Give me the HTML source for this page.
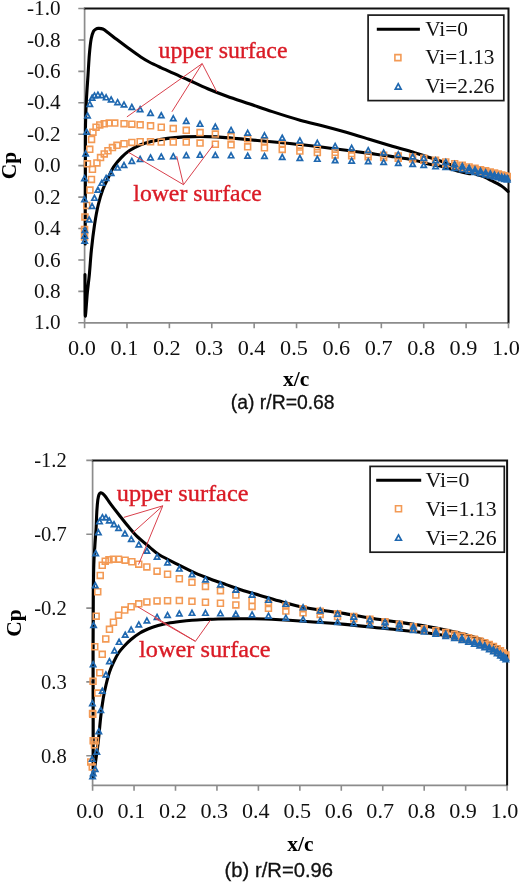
<!DOCTYPE html>
<html><head><meta charset="utf-8"><title>Cp distribution</title><style>
html,body{margin:0;padding:0;background:#fff;}
svg{display:block;}
.t{font-family:"Liberation Serif", "Times New Roman", serif;font-size:20.8px;fill:#111;}
.tb{font-family:"Liberation Serif", "Times New Roman", serif;font-size:21.5px;font-weight:bold;fill:#000;}
.cap{font-family:"Liberation Sans", Arial, sans-serif;font-size:19.4px;fill:#111;stroke:#111;stroke-width:0.3px;}
.lg{font-family:"Liberation Serif", "Times New Roman", serif;font-size:20.8px;fill:#111;}
.an{font-family:"Liberation Serif", "Times New Roman", serif;font-size:22.6px;fill:#DA1B26;stroke:#DA1B26;stroke-width:0.35px;}
.tr{fill:none;stroke:#1F68B0;stroke-width:1.7;stroke-linejoin:miter;}
.sq{fill:none;stroke:#F39A55;stroke-width:1.6;}
</style></head>
<body><svg width="520" height="883" viewBox="0 0 520 883">
<rect width="520" height="883" fill="#fff"/>
<path d="M84.60 8.50V322.80H508.50" fill="none" stroke="#8C8C8C" stroke-width="1.7"/>
<path d="M83.80 8.50H508.50V323.60" fill="none" stroke="#111" stroke-width="2.0"/>
<text transform="translate(60.60 15.10) scale(1.02 1)" text-anchor="end" class="t">-1.0</text>
<text transform="translate(60.60 46.53) scale(1.02 1)" text-anchor="end" class="t">-0.8</text>
<text transform="translate(60.60 77.96) scale(1.02 1)" text-anchor="end" class="t">-0.6</text>
<text transform="translate(60.60 109.39) scale(1.02 1)" text-anchor="end" class="t">-0.4</text>
<text transform="translate(60.60 140.82) scale(1.02 1)" text-anchor="end" class="t">-0.2</text>
<text transform="translate(60.60 172.25) scale(1.02 1)" text-anchor="end" class="t">0.0</text>
<text transform="translate(60.60 203.68) scale(1.02 1)" text-anchor="end" class="t">0.2</text>
<text transform="translate(60.60 235.11) scale(1.02 1)" text-anchor="end" class="t">0.4</text>
<text transform="translate(60.60 266.54) scale(1.02 1)" text-anchor="end" class="t">0.6</text>
<text transform="translate(60.60 297.97) scale(1.02 1)" text-anchor="end" class="t">0.8</text>
<text transform="translate(60.60 329.40) scale(1.02 1)" text-anchor="end" class="t">1.0</text>
<text transform="translate(82.00 354.50) scale(1.07 1)" text-anchor="middle" class="t">0.0</text>
<text transform="translate(124.39 354.50) scale(1.07 1)" text-anchor="middle" class="t">0.1</text>
<text transform="translate(166.78 354.50) scale(1.07 1)" text-anchor="middle" class="t">0.2</text>
<text transform="translate(209.17 354.50) scale(1.07 1)" text-anchor="middle" class="t">0.3</text>
<text transform="translate(251.56 354.50) scale(1.07 1)" text-anchor="middle" class="t">0.4</text>
<text transform="translate(293.95 354.50) scale(1.07 1)" text-anchor="middle" class="t">0.5</text>
<text transform="translate(336.34 354.50) scale(1.07 1)" text-anchor="middle" class="t">0.6</text>
<text transform="translate(378.73 354.50) scale(1.07 1)" text-anchor="middle" class="t">0.7</text>
<text transform="translate(421.12 354.50) scale(1.07 1)" text-anchor="middle" class="t">0.8</text>
<text transform="translate(463.51 354.50) scale(1.07 1)" text-anchor="middle" class="t">0.9</text>
<text transform="translate(505.90 354.50) scale(1.07 1)" text-anchor="middle" class="t">1.0</text>
<path d="M78.30 8.50H84.60M78.30 39.93H84.60M78.30 71.36H84.60M78.30 102.79H84.60M78.30 134.22H84.60M78.30 165.65H84.60M78.30 197.08H84.60M78.30 228.51H84.60M78.30 259.94H84.60M78.30 291.37H84.60M78.30 322.80H84.60M84.60 322.80V328.30M126.99 322.80V328.30M169.38 322.80V328.30M211.77 322.80V328.30M254.16 322.80V328.30M296.55 322.80V328.30M338.94 322.80V328.30M381.33 322.80V328.30M423.72 322.80V328.30M466.11 322.80V328.30M508.50 322.80V328.30" stroke="#8C8C8C" stroke-width="1.6" fill="none"/>
<text x="16" y="165.5" transform="rotate(-90 16 165.5)" text-anchor="middle" class="tb">Cp</text>
<text x="296.2" y="386.2" text-anchor="middle" class="tb">x/c</text>
<text x="230.8" y="409.3" class="cap" textLength="103.8" lengthAdjust="spacingAndGlyphs">(a) r/R=0.68</text>
<path d="M85.20 244.00C85.22 236.67 85.27 212.33 85.30 200.00C85.33 187.67 85.37 182.50 85.40 170.00C85.43 157.50 85.33 136.67 85.50 125.00C85.67 113.33 85.98 108.27 86.40 100.00C86.82 91.73 87.50 83.07 88.00 75.40C88.50 67.73 88.87 60.10 89.40 54.00C89.93 47.90 90.52 42.58 91.20 38.80C91.88 35.02 92.70 32.93 93.50 31.30C94.30 29.67 95.22 29.48 96.00 29.00C96.78 28.52 97.07 28.40 98.20 28.40C99.33 28.40 101.08 28.23 102.80 29.00C104.52 29.77 106.20 31.28 108.50 33.00C110.80 34.72 113.32 36.80 116.60 39.30C119.88 41.80 124.17 45.05 128.20 48.00C132.23 50.95 137.30 54.67 140.80 57.00C144.30 59.33 145.87 60.23 149.20 62.00C152.53 63.77 157.47 66.05 160.80 67.60C164.13 69.15 166.00 69.85 169.20 71.30C172.40 72.75 176.78 74.85 180.00 76.30C183.22 77.75 183.88 77.93 188.50 80.00C193.12 82.07 201.30 86.00 207.70 88.70C214.10 91.40 219.85 93.65 226.90 96.20C233.95 98.75 242.43 101.43 250.00 104.00C257.57 106.57 263.97 108.90 272.30 111.60C280.63 114.30 291.53 117.80 300.00 120.20C308.47 122.60 315.40 123.98 323.10 126.00C330.80 128.02 338.52 130.10 346.20 132.30C353.88 134.50 361.52 136.87 369.20 139.20C376.88 141.53 386.33 144.53 392.30 146.30C398.27 148.07 401.15 148.68 405.00 149.80C408.85 150.92 411.48 151.77 415.40 153.00C419.32 154.23 424.20 155.83 428.50 157.20C432.80 158.57 436.78 159.65 441.20 161.20C445.62 162.75 451.03 164.95 455.00 166.50C458.97 168.05 460.38 168.87 465.00 170.50C469.62 172.13 478.60 174.78 482.70 176.30C486.80 177.82 486.52 178.02 489.60 179.60C492.68 181.18 498.12 183.82 501.20 185.80C504.28 187.78 506.95 190.55 508.10 191.50" fill="none" stroke="#000" stroke-width="3.1" stroke-linejoin="round" stroke-linecap="round"/>
<path d="M85.00 274.50C85.02 278.75 85.03 293.08 85.10 300.00C85.17 306.92 85.03 317.17 85.40 316.00C85.77 314.83 86.63 300.00 87.30 293.00C87.97 286.00 88.72 281.17 89.40 274.00C90.08 266.83 90.55 258.17 91.40 250.00C92.25 241.83 93.37 232.50 94.50 225.00C95.63 217.50 96.78 211.00 98.20 205.00C99.62 199.00 101.23 193.75 103.00 189.00C104.77 184.25 107.03 180.18 108.80 176.50C110.57 172.82 111.48 170.08 113.60 166.90C115.72 163.72 118.90 160.08 121.50 157.40C124.10 154.72 126.12 152.87 129.20 150.80C132.28 148.73 136.32 146.53 140.00 145.00C143.68 143.47 146.68 142.70 151.30 141.60C155.92 140.50 162.25 139.18 167.70 138.40C173.15 137.62 178.55 137.22 184.00 136.90C189.45 136.58 194.95 136.50 200.40 136.50C205.85 136.50 211.25 136.62 216.70 136.90C222.15 137.18 227.65 137.73 233.10 138.20C238.55 138.67 243.95 139.18 249.40 139.70C254.85 140.22 260.35 140.80 265.80 141.30C271.25 141.80 276.40 142.17 282.10 142.70C287.80 143.23 293.17 143.73 300.00 144.50C306.83 145.27 315.40 146.33 323.10 147.30C330.80 148.27 338.52 149.28 346.20 150.30C353.88 151.32 361.52 152.35 369.20 153.40C376.88 154.45 384.60 155.43 392.30 156.60C400.00 157.77 409.37 159.17 415.40 160.40C421.43 161.63 424.20 163.03 428.50 164.00C432.80 164.97 436.02 164.95 441.20 166.20C446.38 167.45 454.80 170.23 459.60 171.50C464.40 172.77 468.27 173.42 470.00 173.80" fill="none" stroke="#000" stroke-width="3.1" stroke-linejoin="round" stroke-linecap="round"/>
<path class="sq" d="M81.6 234.1h5.9v5.9h-5.9ZM81.6 226.6h5.9v5.9h-5.9ZM82.0 214.0h5.9v5.9h-5.9ZM83.8 202.5h5.9v5.9h-5.9ZM87.0 187.1h5.9v5.9h-5.9ZM88.5 176.5h5.9v5.9h-5.9ZM89.5 166.4h5.9v5.9h-5.9ZM84.5 160.9h5.9v5.9h-5.9ZM86.8 146.4h5.9v5.9h-5.9ZM88.6 136.5h5.9v5.9h-5.9ZM90.0 129.2h5.9v5.9h-5.9ZM93.1 124.2h5.9v5.9h-5.9ZM96.8 122.0h5.9v5.9h-5.9ZM101.3 120.8h5.9v5.9h-5.9ZM106.3 120.1h5.9v5.9h-5.9ZM111.8 120.1h5.9v5.9h-5.9ZM121.1 120.7h5.9v5.9h-5.9ZM128.9 121.2h5.9v5.9h-5.9ZM137.2 121.9h5.9v5.9h-5.9ZM147.6 122.9h5.9v5.9h-5.9ZM158.3 124.3h5.9v5.9h-5.9ZM170.3 125.6h5.9v5.9h-5.9ZM183.3 127.4h5.9v5.9h-5.9ZM197.1 129.6h5.9v5.9h-5.9ZM212.4 131.1h5.9v5.9h-5.9ZM228.1 133.7h5.9v5.9h-5.9ZM244.7 135.9h5.9v5.9h-5.9ZM261.5 138.3h5.9v5.9h-5.9ZM279.3 141.4h5.9v5.9h-5.9ZM296.9 144.1h5.9v5.9h-5.9ZM314.4 146.1h5.9v5.9h-5.9ZM332.2 149.4h5.9v5.9h-5.9ZM348.7 150.6h5.9v5.9h-5.9ZM365.2 151.6h5.9v5.9h-5.9ZM380.7 152.4h5.9v5.9h-5.9ZM395.3 153.1h5.9v5.9h-5.9ZM409.7 154.0h5.9v5.9h-5.9ZM420.8 155.3h5.9v5.9h-5.9ZM432.6 157.2h5.9v5.9h-5.9ZM442.8 159.0h5.9v5.9h-5.9ZM451.7 160.7h5.9v5.9h-5.9ZM459.3 162.4h5.9v5.9h-5.9ZM466.1 164.0h5.9v5.9h-5.9ZM472.1 165.4h5.9v5.9h-5.9ZM477.6 166.7h5.9v5.9h-5.9ZM482.7 167.9h5.9v5.9h-5.9ZM487.3 169.1h5.9v5.9h-5.9ZM491.6 170.1h5.9v5.9h-5.9ZM495.4 171.1h5.9v5.9h-5.9ZM498.8 172.0h5.9v5.9h-5.9ZM501.7 172.8h5.9v5.9h-5.9ZM504.3 173.5h5.9v5.9h-5.9ZM94.0 160.0h5.9v5.9h-5.9ZM97.6 154.6h5.9v5.9h-5.9ZM101.3 151.0h5.9v5.9h-5.9ZM105.0 147.8h5.9v5.9h-5.9ZM109.5 144.6h5.9v5.9h-5.9ZM114.0 142.4h5.9v5.9h-5.9ZM121.1 140.8h5.9v5.9h-5.9ZM128.9 139.5h5.9v5.9h-5.9ZM137.2 138.8h5.9v5.9h-5.9ZM147.6 138.8h5.9v5.9h-5.9ZM158.3 139.1h5.9v5.9h-5.9ZM170.3 139.1h5.9v5.9h-5.9ZM183.3 139.1h5.9v5.9h-5.9ZM197.1 140.1h5.9v5.9h-5.9ZM212.4 141.3h5.9v5.9h-5.9ZM228.1 141.9h5.9v5.9h-5.9ZM244.7 143.9h5.9v5.9h-5.9ZM261.5 144.9h5.9v5.9h-5.9ZM279.3 146.5h5.9v5.9h-5.9ZM296.9 148.1h5.9v5.9h-5.9ZM314.4 149.6h5.9v5.9h-5.9ZM332.2 152.1h5.9v5.9h-5.9ZM348.7 152.9h5.9v5.9h-5.9ZM365.2 153.7h5.9v5.9h-5.9ZM380.7 154.5h5.9v5.9h-5.9ZM395.3 155.2h5.9v5.9h-5.9ZM409.7 156.0h5.9v5.9h-5.9ZM420.8 157.3h5.9v5.9h-5.9ZM432.6 159.2h5.9v5.9h-5.9ZM442.8 161.0h5.9v5.9h-5.9ZM451.7 162.7h5.9v5.9h-5.9ZM459.3 164.2h5.9v5.9h-5.9ZM466.1 165.7h5.9v5.9h-5.9ZM472.1 166.9h5.9v5.9h-5.9ZM477.6 168.2h5.9v5.9h-5.9ZM482.7 169.3h5.9v5.9h-5.9ZM487.3 170.4h5.9v5.9h-5.9ZM491.6 171.4h5.9v5.9h-5.9ZM495.4 172.3h5.9v5.9h-5.9ZM498.8 173.1h5.9v5.9h-5.9ZM501.7 173.8h5.9v5.9h-5.9ZM504.3 174.5h5.9v5.9h-5.9Z"/>
<path class="tr" d="M84.70 238.17L87.35 243.05H82.05ZM84.70 233.17L87.35 238.05H82.05ZM84.90 227.57L87.55 232.45H82.25ZM84.50 196.77L87.15 201.65H81.85ZM84.50 175.67L87.15 180.55H81.85ZM85.70 151.07L88.35 155.95H83.05ZM86.60 129.27L89.25 134.15H83.95ZM87.50 112.97L90.15 117.85H84.85ZM89.81 101.42L92.46 106.30H87.16ZM92.10 95.17L94.75 100.04H89.45ZM94.48 92.94L97.13 97.82H91.83ZM97.91 92.17L100.56 97.05H95.26ZM101.81 92.75L104.46 97.63H99.16ZM106.13 94.88L108.78 99.75H103.48ZM111.14 96.99L113.79 101.86H108.49ZM117.58 99.70L120.23 104.58H114.93ZM124.02 102.05L126.67 106.92H121.37ZM131.82 104.52L134.47 109.40H129.17ZM140.13 106.76L142.78 111.64H137.48ZM150.52 110.46L153.17 115.33H147.87ZM161.24 112.73L163.89 117.60H158.59ZM173.28 115.81L175.93 120.69H170.63ZM186.25 118.54L188.90 123.42H183.60ZM200.03 121.36L202.68 126.23H197.38ZM215.33 124.10L217.98 128.97H212.68ZM231.06 127.44L233.71 132.32H228.41ZM247.67 130.30L250.32 135.18H245.02ZM264.46 132.87L267.11 137.74H261.81ZM282.22 135.28L284.87 140.15H279.57ZM299.86 137.99L302.51 142.87H297.21ZM317.32 140.39L319.97 145.27H314.67ZM335.12 143.48L337.77 148.35H332.47ZM351.66 145.39L354.31 150.27H349.01ZM368.19 147.70L370.84 152.58H365.54ZM383.66 150.09L386.31 154.97H381.01ZM398.29 151.90L400.94 156.77H395.64ZM412.70 153.97L415.35 158.85H410.05ZM423.72 155.53L426.37 160.41H421.07ZM435.59 157.67L438.24 162.55H432.94ZM445.76 159.52L448.41 164.40H443.11ZM454.66 161.59L457.31 166.47H452.01ZM462.29 163.50L464.94 168.38H459.64ZM469.08 165.27L471.73 170.15H466.43ZM475.01 166.84L477.66 171.72H472.36ZM480.52 168.31L483.17 173.19H477.87ZM485.61 169.67L488.26 174.55H482.96ZM490.27 170.93L492.92 175.81H487.62ZM494.51 172.08L497.16 176.96H491.86ZM498.33 173.13L500.98 178.01H495.68ZM501.72 174.06L504.37 178.94H499.07ZM504.68 174.89L507.33 179.76H502.03ZM507.23 175.60L509.88 180.47H504.58ZM89.10 216.97L91.75 221.85H86.45ZM92.10 203.56L94.75 208.44H89.45ZM94.48 195.36L97.13 200.24H91.83ZM97.91 187.23L100.56 192.11H95.26ZM101.81 180.38L104.46 185.25H99.16ZM106.13 175.42L108.78 180.29H103.48ZM111.14 170.43L113.79 175.31H108.49ZM117.58 165.12L120.23 169.99H114.93ZM124.02 162.54L126.67 167.41H121.37ZM131.82 158.43L134.47 163.31H129.17ZM140.13 156.44L142.78 161.31H137.48ZM150.52 155.03L153.17 159.91H147.87ZM161.24 153.96L163.89 158.84H158.59ZM173.28 153.66L175.93 158.54H170.63ZM186.25 152.66L188.90 157.54H183.60ZM200.03 152.37L202.68 157.25H197.38ZM215.33 152.57L217.98 157.45H212.68ZM231.06 152.88L233.71 157.76H228.41ZM247.67 153.27L250.32 158.15H245.02ZM264.46 153.47L267.11 158.35H261.81ZM282.22 154.47L284.87 159.35H279.57ZM299.86 155.48L302.51 160.36H297.21ZM317.32 156.38L319.97 161.26H314.67ZM335.12 157.77L337.77 162.65H332.47ZM351.66 158.18L354.31 163.05H349.01ZM368.19 158.68L370.84 163.56H365.54ZM383.66 159.58L386.31 164.46H381.01ZM398.29 160.48L400.94 165.36H395.64ZM412.70 161.59L415.35 166.47H410.05ZM423.72 162.59L426.37 167.47H421.07ZM435.59 163.67L438.24 168.55H432.94ZM445.76 164.60L448.41 169.47H443.11ZM454.66 165.62L457.31 170.50H452.01ZM462.29 166.89L464.94 171.77H459.64ZM469.08 168.28L471.73 173.15H466.43ZM475.01 169.58L477.66 174.45H472.36ZM480.52 170.79L483.17 175.66H477.87ZM485.61 171.91L488.26 176.79H482.96ZM490.27 172.97L492.92 177.85H487.62ZM494.51 173.97L497.16 178.84H491.86ZM498.33 174.89L500.98 179.76H495.68ZM501.72 175.72L504.37 180.59H499.07ZM504.68 176.46L507.33 181.33H502.03ZM507.23 177.10L509.88 181.98H504.58Z"/>
<path d="M92.60 460.40V785.30H507.10" fill="none" stroke="#8C8C8C" stroke-width="1.7"/>
<path d="M91.80 460.40H507.10V786.10" fill="none" stroke="#111" stroke-width="2.0"/>
<text transform="translate(66.80 467.30) scale(0.99 1)" text-anchor="end" class="t">-1.2</text>
<text transform="translate(66.80 541.14) scale(0.99 1)" text-anchor="end" class="t">-0.7</text>
<text transform="translate(66.80 614.98) scale(0.99 1)" text-anchor="end" class="t">-0.2</text>
<text transform="translate(66.80 688.82) scale(0.99 1)" text-anchor="end" class="t">0.3</text>
<text transform="translate(66.80 762.66) scale(0.99 1)" text-anchor="end" class="t">0.8</text>
<text transform="translate(90.00 818.00) scale(1.065 1)" text-anchor="middle" class="t">0.0</text>
<text transform="translate(131.45 818.00) scale(1.065 1)" text-anchor="middle" class="t">0.1</text>
<text transform="translate(172.90 818.00) scale(1.065 1)" text-anchor="middle" class="t">0.2</text>
<text transform="translate(214.35 818.00) scale(1.065 1)" text-anchor="middle" class="t">0.3</text>
<text transform="translate(255.80 818.00) scale(1.065 1)" text-anchor="middle" class="t">0.4</text>
<text transform="translate(297.25 818.00) scale(1.065 1)" text-anchor="middle" class="t">0.5</text>
<text transform="translate(338.70 818.00) scale(1.065 1)" text-anchor="middle" class="t">0.6</text>
<text transform="translate(380.15 818.00) scale(1.065 1)" text-anchor="middle" class="t">0.7</text>
<text transform="translate(421.60 818.00) scale(1.065 1)" text-anchor="middle" class="t">0.8</text>
<text transform="translate(463.05 818.00) scale(1.065 1)" text-anchor="middle" class="t">0.9</text>
<text transform="translate(504.50 818.00) scale(1.065 1)" text-anchor="middle" class="t">1.0</text>
<path d="M86.30 460.40H92.60M86.30 534.24H92.60M86.30 608.08H92.60M86.30 681.92H92.60M86.30 755.76H92.60M92.60 785.30V790.80M134.05 785.30V790.80M175.50 785.30V790.80M216.95 785.30V790.80M258.40 785.30V790.80M299.85 785.30V790.80M341.30 785.30V790.80M382.75 785.30V790.80M424.20 785.30V790.80M465.65 785.30V790.80M507.10 785.30V790.80" stroke="#8C8C8C" stroke-width="1.6" fill="none"/>
<text x="21.3" y="623" transform="rotate(-90 21.3 623)" text-anchor="middle" class="tb">Cp</text>
<text x="300.4" y="850.8" text-anchor="middle" class="tb">x/c</text>
<text x="224.6" y="876.5" class="cap" textLength="108.5" lengthAdjust="spacingAndGlyphs">(b) r/R=0.96</text>
<path d="M93.20 776.50C93.20 767.08 93.22 741.08 93.20 720.00C93.18 698.92 93.08 670.00 93.10 650.00C93.12 630.00 93.18 614.17 93.30 600.00C93.42 585.83 93.53 574.10 93.80 565.00C94.07 555.90 94.52 551.55 94.90 545.40C95.28 539.25 95.78 533.67 96.10 528.10C96.42 522.53 96.52 516.68 96.80 512.00C97.08 507.32 97.43 502.90 97.80 500.00C98.17 497.10 98.52 495.80 99.00 494.60C99.48 493.40 100.10 492.97 100.70 492.80C101.30 492.63 101.95 493.13 102.60 493.60C103.25 494.07 103.77 494.60 104.60 495.60C105.43 496.60 106.52 498.10 107.60 499.60C108.68 501.10 108.98 501.78 111.10 504.60C113.22 507.42 117.42 512.83 120.30 516.50C123.18 520.17 125.70 523.38 128.40 526.60C131.10 529.82 132.97 532.38 136.50 535.80C140.03 539.22 145.82 543.93 149.60 547.10C153.38 550.27 154.13 551.72 159.20 554.80C164.27 557.88 173.97 562.55 180.00 565.60C186.03 568.65 190.27 570.83 195.40 573.10C200.53 575.37 205.67 577.28 210.80 579.20C215.93 581.12 221.08 582.80 226.20 584.60C231.32 586.40 235.87 588.20 241.50 590.00C247.13 591.80 253.83 593.60 260.00 595.40C266.17 597.20 271.90 598.97 278.50 600.80C285.10 602.63 291.85 604.73 299.60 606.40C307.35 608.07 317.43 609.60 325.00 610.80C332.57 612.00 335.83 612.15 345.00 613.60C354.17 615.05 366.67 617.43 380.00 619.50C393.33 621.57 412.50 623.92 425.00 626.00C437.50 628.08 445.33 629.67 455.00 632.00C464.67 634.33 475.50 637.17 483.00 640.00C490.50 642.83 495.92 646.50 500.00 649.00C504.08 651.50 506.25 654.00 507.50 655.00" fill="none" stroke="#000" stroke-width="3.1" stroke-linejoin="round" stroke-linecap="round"/>
<path d="M93.20 776.50C93.58 774.08 94.67 767.70 95.50 762.00C96.33 756.30 97.32 749.92 98.20 742.30C99.08 734.68 99.95 723.68 100.80 716.30C101.65 708.92 102.43 703.22 103.30 698.00C104.17 692.78 104.97 689.33 106.00 685.00C107.03 680.67 108.18 675.90 109.50 672.00C110.82 668.10 112.40 664.77 113.90 661.60C115.40 658.43 116.77 655.60 118.50 653.00C120.23 650.40 122.22 648.25 124.30 646.00C126.38 643.75 128.40 641.67 131.00 639.50C133.60 637.33 137.07 634.75 139.90 633.00C142.73 631.25 144.97 630.23 148.00 629.00C151.03 627.77 154.77 626.57 158.10 625.60C161.43 624.63 164.35 623.88 168.00 623.20C171.65 622.52 176.00 621.98 180.00 621.50C184.00 621.02 187.68 620.63 192.00 620.30C196.32 619.97 201.57 619.72 205.90 619.50C210.23 619.28 212.32 619.12 218.00 619.00C223.68 618.88 232.17 618.80 240.00 618.80C247.83 618.80 255.00 618.63 265.00 619.00C275.00 619.37 286.67 620.10 300.00 621.00C313.33 621.90 330.83 623.15 345.00 624.40C359.17 625.65 371.67 627.12 385.00 628.50C398.33 629.88 413.33 631.28 425.00 632.70C436.67 634.12 450.00 636.28 455.00 637.00" fill="none" stroke="#000" stroke-width="3.1" stroke-linejoin="round" stroke-linecap="round"/>
<path class="sq" d="M89.3 764.0h5.9v5.9h-5.9ZM87.8 759.0h5.9v5.9h-5.9ZM89.6 710.5h5.9v5.9h-5.9ZM94.8 690.1h5.9v5.9h-5.9ZM90.1 678.4h5.9v5.9h-5.9ZM96.8 669.8h5.9v5.9h-5.9ZM99.3 651.4h5.9v5.9h-5.9ZM91.8 643.8h5.9v5.9h-5.9ZM93.2 613.2h5.9v5.9h-5.9ZM94.8 588.8h5.9v5.9h-5.9ZM97.3 572.5h5.9v5.9h-5.9ZM89.8 711.3h5.9v5.9h-5.9ZM90.2 737.8h5.9v5.9h-5.9ZM92.5 737.8h5.9v5.9h-5.9ZM91.5 742.0h5.9v5.9h-5.9ZM99.3 562.3h5.9v5.9h-5.9ZM102.3 558.2h5.9v5.9h-5.9ZM106.0 556.8h5.9v5.9h-5.9ZM110.5 556.2h5.9v5.9h-5.9ZM115.6 556.2h5.9v5.9h-5.9ZM122.2 557.2h5.9v5.9h-5.9ZM128.9 558.8h5.9v5.9h-5.9ZM135.8 561.2h5.9v5.9h-5.9ZM143.9 564.0h5.9v5.9h-5.9ZM154.1 568.2h5.9v5.9h-5.9ZM164.6 571.3h5.9v5.9h-5.9ZM176.4 575.8h5.9v5.9h-5.9ZM189.0 579.4h5.9v5.9h-5.9ZM202.5 583.5h5.9v5.9h-5.9ZM217.5 587.7h5.9v5.9h-5.9ZM232.9 592.1h5.9v5.9h-5.9ZM249.1 597.3h5.9v5.9h-5.9ZM265.5 600.5h5.9v5.9h-5.9ZM282.9 603.1h5.9v5.9h-5.9ZM300.1 605.7h5.9v5.9h-5.9ZM317.2 608.2h5.9v5.9h-5.9ZM334.6 610.9h5.9v5.9h-5.9ZM350.8 613.6h5.9v5.9h-5.9ZM367.0 616.2h5.9v5.9h-5.9ZM382.1 618.8h5.9v5.9h-5.9ZM396.4 621.2h5.9v5.9h-5.9ZM410.5 623.8h5.9v5.9h-5.9ZM421.3 625.7h5.9v5.9h-5.9ZM432.9 627.8h5.9v5.9h-5.9ZM442.8 629.6h5.9v5.9h-5.9ZM451.5 631.4h5.9v5.9h-5.9ZM459.0 633.1h5.9v5.9h-5.9ZM465.6 634.7h5.9v5.9h-5.9ZM471.4 636.3h5.9v5.9h-5.9ZM476.8 638.0h5.9v5.9h-5.9ZM481.8 639.7h5.9v5.9h-5.9ZM486.3 641.6h5.9v5.9h-5.9ZM490.5 643.6h5.9v5.9h-5.9ZM494.2 645.7h5.9v5.9h-5.9ZM497.5 647.9h5.9v5.9h-5.9ZM500.4 650.1h5.9v5.9h-5.9ZM502.9 652.1h5.9v5.9h-5.9ZM102.8 636.0h5.9v5.9h-5.9ZM106.5 626.4h5.9v5.9h-5.9ZM110.5 619.3h5.9v5.9h-5.9ZM115.6 612.2h5.9v5.9h-5.9ZM121.8 607.1h5.9v5.9h-5.9ZM128.2 603.8h5.9v5.9h-5.9ZM135.8 600.9h5.9v5.9h-5.9ZM143.9 599.0h5.9v5.9h-5.9ZM154.1 598.0h5.9v5.9h-5.9ZM164.6 597.7h5.9v5.9h-5.9ZM176.4 597.6h5.9v5.9h-5.9ZM189.0 598.4h5.9v5.9h-5.9ZM202.5 599.3h5.9v5.9h-5.9ZM217.5 600.3h5.9v5.9h-5.9ZM232.9 602.0h5.9v5.9h-5.9ZM249.1 603.5h5.9v5.9h-5.9ZM265.5 605.3h5.9v5.9h-5.9ZM282.9 608.1h5.9v5.9h-5.9ZM300.1 609.8h5.9v5.9h-5.9ZM317.2 611.5h5.9v5.9h-5.9ZM334.6 613.6h5.9v5.9h-5.9ZM350.8 615.7h5.9v5.9h-5.9ZM367.0 617.8h5.9v5.9h-5.9ZM382.1 619.8h5.9v5.9h-5.9ZM396.4 621.9h5.9v5.9h-5.9ZM410.5 625.2h5.9v5.9h-5.9ZM421.3 627.4h5.9v5.9h-5.9ZM432.9 629.6h5.9v5.9h-5.9ZM442.8 631.6h5.9v5.9h-5.9ZM451.5 633.4h5.9v5.9h-5.9ZM459.0 635.2h5.9v5.9h-5.9ZM465.6 636.8h5.9v5.9h-5.9ZM471.4 638.3h5.9v5.9h-5.9ZM476.8 640.0h5.9v5.9h-5.9ZM481.8 641.7h5.9v5.9h-5.9ZM486.3 643.6h5.9v5.9h-5.9ZM490.5 645.7h5.9v5.9h-5.9ZM494.2 647.7h5.9v5.9h-5.9ZM497.5 649.8h5.9v5.9h-5.9ZM500.4 651.9h5.9v5.9h-5.9ZM502.9 653.7h5.9v5.9h-5.9Z"/>
<path class="tr" d="M92.60 773.67L95.25 778.55H89.95ZM93.20 770.67L95.85 775.55H90.55ZM95.20 766.57L97.85 771.45H92.55ZM92.20 756.37L94.85 761.25H89.55ZM96.80 749.17L99.45 754.05H94.15ZM98.80 728.77L101.45 733.65H96.15ZM92.40 700.67L95.05 705.55H89.75ZM93.10 661.77L95.75 666.65H90.45ZM93.60 622.57L96.25 627.45H90.95ZM95.20 582.77L97.85 587.65H92.55ZM95.70 550.77L98.35 555.65H93.05ZM98.40 529.87L101.05 534.75H95.75ZM99.50 518.87L102.15 523.75H96.85ZM102.40 514.67L105.05 519.55H99.75ZM105.90 514.97L108.55 519.85H103.25ZM109.30 517.97L111.95 522.85H106.65ZM114.00 521.77L116.65 526.65H111.35ZM118.60 525.57L121.25 530.45H115.95ZM124.90 530.97L127.55 535.85H122.25ZM131.30 536.57L133.95 541.45H128.65ZM138.78 541.95L141.43 546.83H136.13ZM146.90 548.23L149.55 553.10H144.25ZM157.05 554.23L159.70 559.11H154.40ZM167.54 560.06L170.19 564.94H164.89ZM179.31 566.13L181.96 571.01H176.66ZM192.00 571.81L194.65 576.69H189.35ZM205.47 576.92L208.12 581.80H202.82ZM220.43 582.08L223.08 586.96H217.78ZM235.81 587.25L238.46 592.12H233.16ZM252.06 592.33L254.71 597.20H249.41ZM268.47 597.36L271.12 602.24H265.82ZM285.84 601.38L288.49 606.26H283.19ZM303.08 604.85L305.73 609.73H300.43ZM320.16 607.93L322.81 612.80H317.51ZM337.57 611.20L340.22 616.08H334.92ZM353.74 614.23L356.38 619.10H351.09ZM369.90 616.77L372.55 621.65H367.25ZM385.03 619.44L387.68 624.32H382.38ZM399.33 621.68L401.98 626.56H396.68ZM413.42 623.96L416.07 628.83H410.77ZM424.20 626.58L426.85 631.46H421.55ZM435.81 629.18L438.46 634.06H433.16ZM445.75 631.40L448.40 636.28H443.10ZM454.46 633.53L457.11 638.41H451.81ZM461.92 635.52L464.57 640.40H459.27ZM468.55 637.39L471.20 642.27H465.90ZM474.35 639.17L477.00 644.05H471.70ZM479.74 640.99L482.39 645.86H477.09ZM484.72 642.83L487.37 647.71H482.07ZM489.28 644.75L491.93 649.63H486.63ZM493.42 646.77L496.07 651.64H490.77ZM497.15 648.85L499.80 653.73H494.50ZM500.47 651.06L503.12 655.93H497.82ZM503.37 653.24L506.02 658.11H500.72ZM505.86 655.27L508.51 660.14H503.21ZM100.80 707.57L103.45 712.45H98.15ZM102.30 688.27L104.95 693.15H99.65ZM105.90 671.97L108.55 676.85H103.25ZM109.40 658.77L112.05 663.65H106.75ZM114.50 648.07L117.15 652.95H111.85ZM119.10 639.37L121.75 644.25H116.45ZM125.20 632.27L127.85 637.15H122.55ZM131.15 627.14L133.80 632.02H128.50ZM138.78 621.91L141.43 626.79H136.13ZM146.90 618.07L149.55 622.95H144.25ZM157.05 614.46L159.70 619.33H154.40ZM167.54 612.57L170.19 617.45H164.89ZM179.31 610.99L181.96 615.87H176.66ZM192.00 610.37L194.65 615.25H189.35ZM205.47 610.37L208.12 615.25H202.82ZM220.43 610.86L223.08 615.74H217.78ZM235.81 611.36L238.46 616.23H233.16ZM252.06 611.96L254.71 616.84H249.41ZM268.47 613.17L271.12 618.05H265.82ZM285.84 615.18L288.49 620.05H283.19ZM303.08 616.66L305.73 621.54H300.43ZM320.16 617.95L322.81 622.83H317.51ZM337.57 619.48L340.22 624.35H334.92ZM353.74 620.85L356.38 625.73H351.09ZM369.90 622.02L372.55 626.89H367.25ZM385.03 623.75L387.68 628.63H382.38ZM399.33 625.50L401.98 630.37H396.68ZM413.42 627.41L416.07 632.28H410.77ZM424.20 629.13L426.85 634.01H421.55ZM435.81 631.34L438.46 636.21H433.16ZM445.75 633.47L448.40 638.35H443.10ZM454.46 635.54L457.11 640.41H451.81ZM461.92 637.47L464.57 642.35H459.27ZM468.55 639.35L471.20 644.22H465.90ZM474.35 641.15L477.00 646.03H471.70ZM479.74 642.98L482.39 647.86H477.09ZM484.72 644.83L487.37 649.71H482.07ZM489.28 646.77L491.93 651.65H486.63ZM493.42 648.79L496.07 653.66H490.77ZM497.15 650.83L499.80 655.71H494.50ZM500.47 652.93L503.12 657.81H497.82ZM503.37 654.98L506.02 659.86H500.72ZM505.86 656.87L508.51 661.74H503.21Z"/>
<rect x="368.1" y="15.1" width="135.7" height="85.5" fill="#fff" stroke="#1a1a1a" stroke-width="1.7"/>
<path d="M376.8 29.2H419.9" stroke="#000" stroke-width="3.1"/>
<path class="sq" d="M394.9 54.6h6.0v6.0h-6.0Z"/>
<path class="tr" d="M398.20 83.71L401.10 89.04H395.30Z"/>
<text transform="translate(425.20 35.80) scale(1.025 1)" class="lg">Vi=0</text>
<text transform="translate(425.20 64.30) scale(1.025 1)" class="lg">Vi=1.13</text>
<text transform="translate(425.20 92.90) scale(1.025 1)" class="lg">Vi=2.26</text>
<rect x="370.1" y="466.4" width="134.2" height="85.80000000000007" fill="#fff" stroke="#1a1a1a" stroke-width="1.7"/>
<path d="M376.2 480.3H421.2" stroke="#000" stroke-width="3.1"/>
<path class="sq" d="M395.5 505.8h6.0v6.0h-6.0Z"/>
<path class="tr" d="M398.50 534.91L401.40 540.24H395.60Z"/>
<text transform="translate(425.60 487.20) scale(1.05 1)" class="lg">Vi=0</text>
<text transform="translate(425.60 516.10) scale(1.05 1)" class="lg">Vi=1.13</text>
<text transform="translate(425.60 544.60) scale(1.05 1)" class="lg">Vi=2.26</text>
<path d="M202.2 63.6L126.9 116.9M202.2 63.6L171.9 111.8M202.2 63.6L216.9 92" stroke="#D9404C" stroke-width="1.0" fill="none"/>
<text transform="translate(158.50 57.70) scale(1.055 1)" class="an">upper surface</text>
<path d="M183.5 184.7L128.5 152.3M183.5 184.7L176.7 156.2M183.5 184.7L213.1 145.2" stroke="#D9404C" stroke-width="1.0" fill="none"/>
<text transform="translate(133.30 201.40) scale(1.05 1)" class="an">lower surface</text>
<path d="M162.8 505.8L123.8 517.4M162.8 505.8L132.5 533M162.8 505.8L138.5 564.6" stroke="#D9404C" stroke-width="1.0" fill="none"/>
<text transform="translate(116.80 500.60) scale(1.077 1)" class="an">upper surface</text>
<path d="M195.4 641.3L137.7 606.7M195.4 641.3L155 618.3M195.4 641.3L210.4 620.2" stroke="#D9404C" stroke-width="1.0" fill="none"/>
<text transform="translate(139.10 656.70) scale(1.075 1)" class="an">lower surface</text>
</svg></body></html>
